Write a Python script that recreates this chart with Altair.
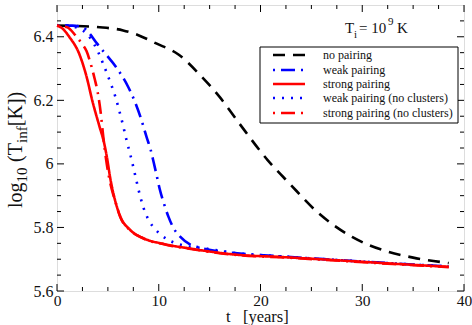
import altair as alt
import pandas as pd

# ---------------- data ----------------
t_none = [0, 2, 4.2, 6.5, 8, 9.75, 11.9, 14.2, 16, 17.9, 20.7, 22.8, 25.7, 29, 32.3, 35, 38.5]
v_none = [6.435, 6.434, 6.43, 6.42, 6.405, 6.379, 6.345, 6.275, 6.21, 6.128, 6.012, 5.94, 5.845, 5.77, 5.726, 5.705, 5.688]

t_weak = [0, 1.5, 2.5, 3.2, 3.9, 4.8, 5.8, 7.0, 7.6, 8.3, 8.8, 9.2, 9.5, 9.8, 10.1, 10.5, 10.95, 11.45, 12.1, 13.1, 14.1, 18, 22, 27.4, 33, 38.5]
v_weak = [6.435, 6.435, 6.43, 6.41, 6.38, 6.345, 6.305, 6.242, 6.2, 6.138, 6.085, 6.045, 6.005, 5.963, 5.92, 5.876, 5.834, 5.798, 5.771, 5.746, 5.736, 5.718, 5.709, 5.698, 5.687, 5.677]

t_strong = [0, 0.5, 1.2, 2.2, 2.9, 3.5, 4.2, 4.6, 4.9, 5.25, 5.7, 6.2, 7.2, 8.5, 10.5, 13, 17.7, 22, 27.4, 33, 38.5]
v_strong = [6.435, 6.427, 6.40, 6.345, 6.275, 6.195, 6.115, 6.07, 6.022, 5.952, 5.886, 5.836, 5.792, 5.766, 5.748, 5.734, 5.714, 5.707, 5.697, 5.686, 5.676]

t_weak_nc = [0, 1, 2, 2.9, 3.4, 4.0, 4.6, 5.2, 5.7, 6.1, 6.5, 6.85, 7.2, 7.5, 7.8, 8.2, 8.5, 8.9, 9.4, 10.0, 10.8, 11.7, 12.6, 14.1, 18, 22, 27.4, 33, 38.5]
v_weak_nc = [6.435, 6.435, 6.428, 6.41, 6.39, 6.355, 6.31, 6.26, 6.215, 6.17, 6.12, 6.072, 6.03, 5.99, 5.948, 5.895, 5.862, 5.83, 5.804, 5.783, 5.763, 5.75, 5.742, 5.736, 5.718, 5.709, 5.698, 5.687, 5.677]

t_strong_nc = [0, 1.0, 1.8, 2.4, 2.9, 3.4, 3.7, 4.0, 4.3, 4.55, 4.8, 5.1, 5.4, 5.75, 6.2, 7.2, 8.5, 10.5, 13, 17.7, 22, 27.4, 33, 38.5]
v_strong_nc = [6.435, 6.43, 6.405, 6.38, 6.355, 6.305, 6.268, 6.225, 6.16, 6.085, 6.02, 5.96, 5.918, 5.88, 5.834, 5.791, 5.765, 5.747, 5.733, 5.713, 5.706, 5.696, 5.685, 5.675]

legend_labels = ["no pairing", "weak pairing", "strong pairing",
                 "weak pairing (no clusters)", "strong pairing (no clusters)"]

x_major = [0, 10, 20, 30, 40]
x_minor = [2.5, 5, 7.5, 12.5, 15, 17.5, 22.5, 25, 27.5, 32.5, 35, 37.5]
y_major = [5.6, 5.8, 6.0, 6.2, 6.4]
y_minor = [5.65, 5.7, 5.75, 5.85, 5.9, 5.95, 6.05, 6.1, 6.15, 6.25, 6.3, 6.35, 6.45]

# ---------------- styling ----------------
W, H = 407, 286
SERIF = "Liberation Serif"
series_style = [
    # (t, v, color, dash)
    (t_none, v_none, "#000000", [12, 8]),
    (t_weak, v_weak, "#0000ff", [2, 6, 14, 6]),
    (t_weak_nc, v_weak_nc, "#0000ff", [2, 7]),
    (t_strong_nc, v_strong_nc, "#ff0000", [2, 6, 14, 6]),
    (t_strong, v_strong, "#ff0000", [1, 0]),
]
legend_order = [0, 1, 4, 2, 3]  # index into series_style for each legend label
SW = 2.6

xs = alt.Scale(domain=[0, 40], nice=False, zero=False)
ys = alt.Scale(domain=[5.6, 6.5], nice=False, zero=False)
xaxis = alt.Axis(values=x_major, ticks=False, domain=False, grid=False, title=None,
                 labelFont=SERIF, labelFontSize=15.5, labelColor="#111", labelPadding=2,
                 labelBaseline="top", labelFlush=False, labelOverlap=False)
yaxis = alt.Axis(values=y_major, ticks=False, domain=False, grid=False, title=None,
                 labelFont=SERIF, labelFontSize=16, labelColor="#111", labelPadding=4,
                 format="~g", labelFlush=False, labelOverlap=False)

X = lambda: alt.X("t:Q", scale=xs, axis=xaxis)
Y = lambda: alt.Y("v:Q", scale=ys, axis=yaxis)

layers = []
for t, v, col, dash in series_style:
    df = pd.DataFrame({"t": t, "v": v})
    layers.append(
        alt.Chart(df).mark_line(color=col, strokeDash=dash, strokeWidth=SW,
                                interpolate="monotone", strokeCap="butt")
        .encode(x=X(), y=Y())
    )

# ticks (inward, on all four sides)
def xticks(vals, length):
    df = pd.DataFrame({"t": vals})
    bot = alt.Chart(df).mark_rule(color="black", strokeWidth=1).encode(
        x=X(), y=alt.value(H), y2=alt.value(H - length))
    top = alt.Chart(df).mark_rule(color="black", strokeWidth=1).encode(
        x=X(), y=alt.value(0), y2=alt.value(length))
    return [bot, top]

def yticks(vals, length):
    df = pd.DataFrame({"v": vals})
    left = alt.Chart(df).mark_rule(color="black", strokeWidth=1).encode(
        y=Y(), x=alt.value(0), x2=alt.value(length))
    right = alt.Chart(df).mark_rule(color="black", strokeWidth=1).encode(
        y=Y(), x=alt.value(W), x2=alt.value(W - length))
    return [left, right]

layers += xticks(x_major, 7) + xticks(x_minor, 4) + yticks(y_major, 7) + yticks(y_minor, 4)

one = alt.Data(values=[{}])

def txt(s, x, y, size, angle=0, align="left", baseline="alphabetic"):
    kw = dict(text=s, font=SERIF, fontSize=size, color="#111", align=align, baseline=baseline)
    if angle:
        kw["angle"] = angle
    return alt.Chart(one).mark_text(**kw).encode(x=alt.value(x), y=alt.value(y))

# legend box
layers.append(alt.Chart(one).mark_rect(fill="white", stroke="black", strokeWidth=1).encode(
    x=alt.value(203), x2=alt.value(401), y=alt.value(42), y2=alt.value(118)))
row_y = [50, 65, 79, 93, 108]
for lab, idx, ry in zip(legend_labels, legend_order, row_y):
    _, _, col, dash = series_style[idx]
    layers.append(alt.Chart(one).mark_rule(color=col, strokeDash=dash, strokeWidth=SW,
                                           strokeCap="butt").encode(
        x=alt.value(216), x2=alt.value(248), y=alt.value(ry)))
    layers.append(txt(lab, 266, ry + 4, 12))

# T_i = 10^9 K annotation (plot coords)
layers += [
    txt("T", 288, 28, 15),
    txt("i", 297, 33, 11),
    txt("= 10", 302, 28, 15),
    txt("9", 331, 20, 11),
    txt("K", 340, 28, 15),
]

# y axis title with subscripts (rotated), positions relative to plot origin (57,5)
bx, sbx = 22 - 57, 27 - 57
start = 208 - 5
pieces = [("log", 20, bx, 25.6), ("10", 15, sbx, 15.5 + 5),
          ("(T", 20, bx, 19.0), ("inf", 15, sbx, 16.7), ("[K])", 20, bx, 34.4)]
pos = start
for s, size, xx, ln in pieces:
    layers.append(txt(s, xx, pos, size, angle=270))
    pos -= ln

# x axis title
layers.append(txt("t\u00a0\u00a0\u00a0[years]", 226 - 57, 322 - 5, 16.5))

chart = alt.layer(*layers).properties(
    width=W, height=H,
    autosize=alt.AutoSizeParams(type="none"),
    padding={"left": 57, "top": 5, "right": 8, "bottom": 34},
).configure_view(stroke="black", strokeWidth=1.5).configure(background="white")

chart.save("out.html", embed_options={"renderer": "svg", "actions": False})
